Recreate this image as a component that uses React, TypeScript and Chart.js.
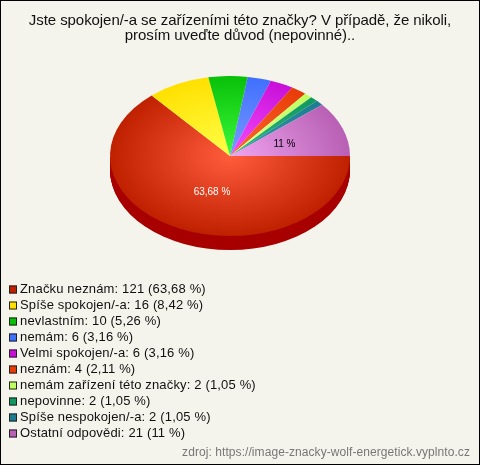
import React, { useEffect, useRef } from "react";
import { Chart, registerables } from "chart.js";

Chart.register(...registerables);

const categories = ["Značku neznám", "Spíše spokojen/-a", "nevlastním", "nemám", "Velmi spokojen/-a", "neznám", "nemám zařízení této značky", "nepovinne", "Spíše nespokojen/-a", "Ostatní odpovědi"];
const values = [121, 16, 10, 6, 6, 4, 2, 2, 2, 21];
const percents = ["63,68 %", "8,42 %", "5,26 %", "3,16 %", "3,16 %", "2,11 %", "1,05 %", "1,05 %", "1,05 %", "11 %"];
const innerColors = ["#ff5c3c", "#ffff48", "#3cfa3c", "#7a9aff", "#f64cff", "#ff6830", "#dcff8c", "#28b878", "#3c9cac", "#f0a4f0"];
const outerColors = ["#bf2000", "#ffe000", "#08c008", "#4070ff", "#c810d8", "#e83c08", "#c0ff60", "#109860", "#1c7c90", "#b860b4"];
const swatchColors = ["#c02000", "#ffe000", "#08c008", "#4070ff", "#c810d8", "#e83c08", "#c0ff60", "#109860", "#1c7c90", "#b860b4"];
const shownLabels: Record<number, { color: string; dx: number; dy: number }> = {
  0: { color: "#ffffff", dx: 7, dy: 0 },
  9: { color: "#000000", dx: -2, dy: 2 },
};
const titleLines = ["Jste spokojen/-a se zařízeními této značky? V případě, že nikoli,", "prosím uveďte důvod (nepovinné).."];
const sourceText = "zdroj: https://image-znacky-wolf-energetick.vyplnto.cz";

const FONT = '"Liberation Sans", Arial, sans-serif';
const SQUASH = 2 / 3, DEPTH = 14, SIDE = "#a80000";

const squashPlugin = {
  id: "squash",
  beforeDraw(chart: any) {
    const { ctx, width, height } = chart;
    ctx.save();
    ctx.fillStyle = "#f5f4ec";
    ctx.fillRect(0, 0, width, height);
    ctx.font = `15px ${FONT}`;
    ctx.textAlign = "center";
    ctx.textBaseline = "alphabetic";
    ctx.fillStyle = "#111111";
    ctx.letterSpacing = "-0.07px";
    titleLines.forEach((line, i) => ctx.fillText(line, 240, 25 + i * 15));
    ctx.restore();
  },
  beforeDatasetsDraw(chart: any) {
    const { ctx } = chart;
    const arcs = chart.getDatasetMeta(0).data;
    const { x, y, outerRadius } = arcs[0];
    ctx.save();
    ctx.translate(x, y);
    ctx.scale(1, SQUASH);
    ctx.translate(-x, -y);
    ctx.fillStyle = SIDE;
    for (let d = DEPTH / SQUASH; d > 0; d -= 1) {
      ctx.beginPath();
      ctx.ellipse(x, y + d, outerRadius, outerRadius, 0, 0, Math.PI);
      ctx.fill();
    }
  },
  afterDatasetsDraw(chart: any) {
    const { ctx } = chart;
    ctx.restore();
    const arcs = chart.getDatasetMeta(0).data;
    const { y } = arcs[0];
    ctx.save();
    ctx.font = `10px ${FONT}`;
    ctx.textAlign = "center";
    ctx.textBaseline = "middle";
    arcs.forEach((arc: any, i: number) => {
      const s = shownLabels[i];
      if (!s) return;
      const p = arc.tooltipPosition();
      ctx.fillStyle = s.color;
      ctx.fillText(percents[i], p.x + s.dx, y + (p.y - y) * SQUASH + s.dy);
    });
    ctx.restore();
  },
  afterDraw(chart: any) {
    const { ctx, width, height } = chart;
    ctx.save();
    ctx.font = `13px ${FONT}`;
    ctx.textAlign = "left";
    ctx.textBaseline = "middle";
    ctx.letterSpacing = "0.16px";
    chart.data.labels.forEach((name: string, i: number) => {
      const y = 289.5 + i * 16;
      ctx.fillStyle = swatchColors[i];
      ctx.fillRect(9, y - 4, 8, 8);
      ctx.strokeStyle = "#222222";
      ctx.lineWidth = 1;
      ctx.strokeRect(9.5, y - 3.5, 7, 7);
      ctx.fillStyle = "#111111";
      ctx.fillText(`${name}: ${values[i]} (${percents[i]})`, 20, y);
    });
    ctx.font = `12px ${FONT}`;
    ctx.textAlign = "right";
    ctx.letterSpacing = "0.07px";
    ctx.fillStyle = "#777777";
    ctx.fillText(sourceText, 470, 453);
    ctx.strokeStyle = "#000000";
    ctx.lineWidth = 2;
    ctx.strokeRect(0, 0, width, height);
    ctx.restore();
  },
};

export default function App() {
  const ref = useRef<HTMLCanvasElement>(null);
  useEffect(() => {
    document.body.style.margin = "0";
    const chart = new Chart(ref.current!, {
      type: "pie",
      data: {
        labels: categories,
        datasets: [{
          data: values,
          borderWidth: 0,
          backgroundColor: (c: any) => {
            const area = c.chart.chartArea;
            if (!area) return outerColors[c.dataIndex];
            const cx = (area.left + area.right) / 2, cy = (area.top + area.bottom) / 2;
            const g = c.chart.ctx.createRadialGradient(cx, cy, 0, cx, cy, 120);
            g.addColorStop(0, innerColors[c.dataIndex]);
            g.addColorStop(1, outerColors[c.dataIndex]);
            return g;
          },
        }],
      },
      options: {
        responsive: false,
        devicePixelRatio: 1,
        animation: false,
        rotation: 90,
        layout: { padding: { left: 110, right: 130, top: 36, bottom: 189 } },
        plugins: {
          legend: { display: false },
          tooltip: { enabled: false },
        },
      },
      plugins: [squashPlugin],
    } as any);
    return () => chart.destroy();
  }, []);
  return <canvas ref={ref} width={480} height={465} style={{ display: "block" }} />;
}
